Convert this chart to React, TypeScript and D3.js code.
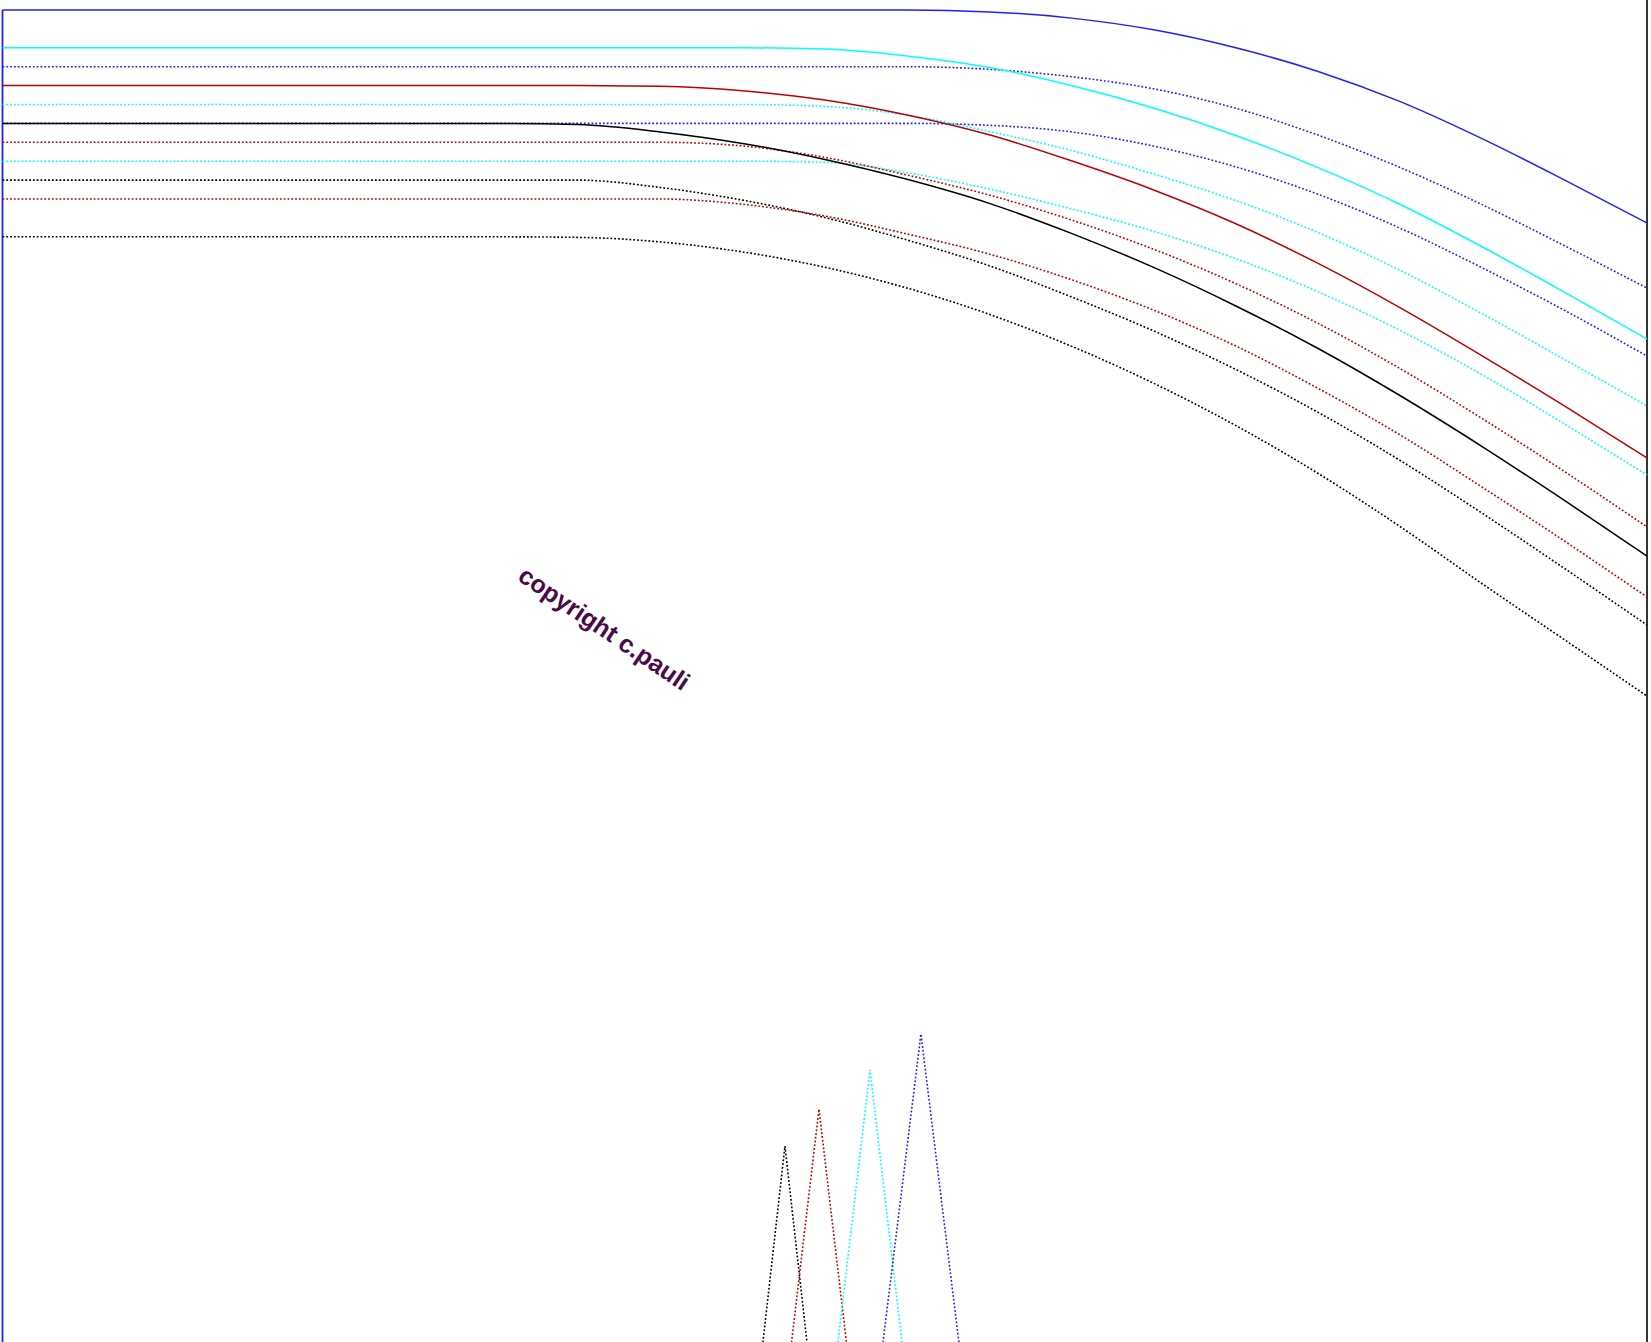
import React from "react";
import * as d3 from "d3";

const W = 1651;
const H = 1342;

// shared x grid (percent of width)
const xGrid = [0, 30, 35, 40, 45, 50, 55, 60, 65, 70, 75, 80, 85, 90, 95, 100];

// solid series
const blueSolid = [70, 70, 70, 70, 70, 70, 70, 69.9, 69.57, 68.95, 68.0, 66.75, 65.15, 63.18, 61.0, 58.73];
const cyanSolid = [68, 68, 68, 68, 68, 67.93, 67.57, 66.96, 66.01, 64.81, 63.36, 61.66, 59.71, 57.46, 55.06, 52.59];
const redSolid = [66, 66, 66, 65.96, 65.73, 65.24, 64.45, 63.4, 62.02, 60.48, 58.69, 56.59, 54.24, 51.69, 49.04, 46.3];
const blackSolid = [64, 64, 63.94, 63.55, 62.94, 62.09, 61.04, 59.77, 58.18, 56.38, 54.34, 52.09, 49.59, 46.89, 44.04, 41.11];

// dotted series
const blueDotA = [67, 67, 67, 67, 67, 67, 67, 66.86, 66.47, 65.83, 64.8, 63.38, 61.66, 59.69, 57.52, 55.29];
const blueDotB = [64, 64, 64, 64, 64, 64, 64, 63.9, 63.55, 62.8, 61.7, 60.25, 58.45, 56.35, 54.1, 51.69];
const cyanDotA = [65, 65, 65, 65, 65, 64.9, 64.44, 63.57, 62.57, 61.32, 59.92, 58.22, 56.22, 53.92, 51.5, 49.05];
const cyanDotB = [62, 62, 62, 62, 62, 61.94, 61.39, 60.53, 59.48, 58.29, 56.84, 55.09, 53.04, 50.69, 48.09, 45.4];
const redDotA = [63, 63, 63, 63, 62.81, 62.2, 61.27, 60.21, 58.89, 57.34, 55.52, 53.42, 51.02, 48.37, 45.57, 42.65];
const redDotB = [60, 60, 60, 60, 59.72, 59.1, 58.15, 57.09, 55.73, 54.12, 52.22, 49.98, 47.51, 44.74, 41.89, 38.94];
const blackDotA = [61, 61, 61, 60.61, 59.94, 59.02, 57.83, 56.47, 54.82, 53.02, 50.98, 48.71, 46.16, 43.36, 40.44, 37.46];
const blackDotB = [58, 58, 57.97, 57.73, 57.2, 56.39, 55.29, 53.9, 52.21, 50.25, 48.01, 45.48, 42.66, 39.63, 36.67, 33.7];

// spikes at the bottom
const spikeColors = ["#000000", "#c00000", "#00ffff", "#2020ff"];
const spikeCenter = [47.58, 49.65, 52.75, 55.85];
const spikePeak = [9.89, 11.85, 13.92, 15.82];
const spikeHalf = [1.34, 1.67, 1.95, 2.31];
const spikeBase = -0.5;

const BLUE = "#2020ff";
const CYAN = "#00ffff";
const RED = "#c00000";
const BLACK = "#000000";

const seriesList = [
  { values: blackDotB, color: BLACK, dotted: true },
  { values: redDotB, color: RED, dotted: true },
  { values: blackDotA, color: BLACK, dotted: true },
  { values: cyanDotB, color: CYAN, dotted: true },
  { values: redDotA, color: RED, dotted: true },
  { values: blueDotB, color: BLUE, dotted: true },
  { values: cyanDotA, color: CYAN, dotted: true },
  { values: blueDotA, color: BLUE, dotted: true },
  { values: blackSolid, color: BLACK, dotted: false },
  { values: redSolid, color: RED, dotted: false },
  { values: cyanSolid, color: CYAN, dotted: false },
  { values: blueSolid, color: BLUE, dotted: false },
];

export default function App() {
  const x = d3.scaleLinear().domain([0, 100]).range([2.5, 1647]);
  const y = d3.scaleLinear().domain([0, 70]).range([1333, 10]);

  const curve = d3
    .line<[number, number]>()
    .x((d) => x(d[0]))
    .y((d) => y(d[1]))
    .curve(d3.curveMonotoneX);
  const straight = d3
    .line<[number, number]>()
    .x((d) => x(d[0]))
    .y((d) => y(d[1]));

  const dash = "1.8 2";

  return (
    <svg
      width={W}
      height={H}
      viewBox={`0 0 ${W} ${H}`}
      style={{ position: "absolute", left: 0, top: 0, background: "#fff" }}
    >
      <rect x={0} y={0} width={W} height={H} fill="#fff" />
      {/* right frame */}
      <path
        d={straight([[100, -1], [100, 70.6]]) || ""}
        stroke={BLACK}
        strokeWidth={1.6}
        fill="none"
      />
      {/* left edge (blue) */}
      <path
        d={straight([[0, -1], [0, 70]]) || ""}
        stroke={BLUE}
        strokeWidth={1.8}
        fill="none"
      />
      {seriesList.map((s, i) => (
        <path
          key={i}
          d={curve(xGrid.map((g, j) => [g, s.values[j]] as [number, number])) || ""}
          stroke={s.color}
          strokeWidth={s.dotted ? 1.6 : 1.5}
          strokeDasharray={s.dotted ? dash : undefined}
          fill="none"
        />
      ))}
      {spikeCenter.map((c, i) => (
        <path
          key={"s" + i}
          d={
            straight([
              [c - spikeHalf[i], spikeBase],
              [c, spikePeak[i]],
              [c + spikeHalf[i], spikeBase],
            ]) || ""
          }
          stroke={spikeColors[i]}
          strokeWidth={1.6}
          strokeDasharray={dash}
          fill="none"
        />
      ))}
      <text
        transform={`translate(${x(36.6)},${y(37.3)}) rotate(34)`}
        textAnchor="middle"
        dominantBaseline="central"
        fontFamily="'Liberation Sans', Arial, sans-serif"
        fontWeight="bold"
        fontSize={25}
        fill="#4a0a48"
      >
        copyright c.pauli
      </text>
    </svg>
  );
}
